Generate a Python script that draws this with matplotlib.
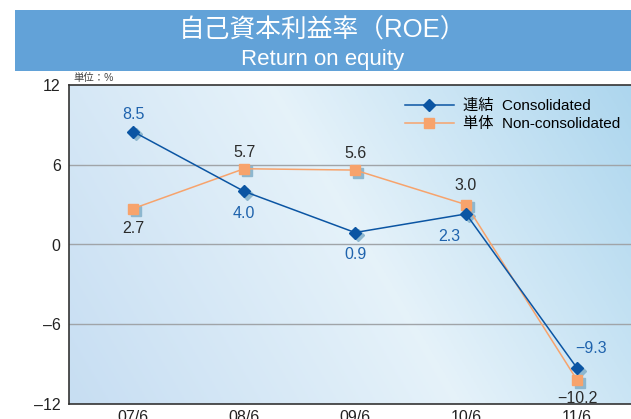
import matplotlib
matplotlib.use("Agg")
import matplotlib.pyplot as plt
import matplotlib.transforms as mtransforms
import numpy as np
from matplotlib.patches import Rectangle

plt.rcParams["font.family"] = ["Liberation Sans", "Noto Sans CJK JP"]
plt.rcParams["axes.unicode_minus"] = True

periods = ["07/6", "08/6", "09/6", "10/6", "11/6"]
consolidated = [8.5, 4.0, 0.9, 2.3, -9.3]
non_consolidated = [2.7, 5.7, 5.6, 3.0, -10.2]
y_ticks = [12, 6, 0, -6, -12]
y_tick_labels = ["12", "6", "0", "\u20136", "\u201312"]
cons_labels = ["8.5", "4.0", "0.9", "2.3", "\u22129.3"]
non_labels = ["2.7", "5.7", "5.6", "3.0", "\u221210.2"]

BLUE = "#0b55a3"
BLUE_TEXT = "#1f63ad"
ORANGE = "#f7a36c"
SHADOW = "#8db7cf"

fig = plt.figure(figsize=(6.31, 4.19), dpi=100)

# title banner
fig.patches.append(Rectangle((15 / 631, 1 - 71 / 419), 616 / 631, 61 / 419,
                             transform=fig.transFigure, facecolor="#62a2d8",
                             edgecolor="none", zorder=0))
fig.text(0.5 + 7 / 631, 1 - 30 / 419, "自己資本利益率（ROE）", color="white",
         fontsize=18.5, ha="center", va="center")
fig.text(0.5 + 7 / 631, 1 - 59 / 419, "Return on equity", color="white",
         fontsize=16, ha="center", va="center")

ax = fig.add_axes([69 / 631, 1 - 404 / 419, 1 - 69 / 631, 319 / 419])

# gradient background
h, w = 100, 200
yy, xx = np.mgrid[0:1:h * 1j, 0:1:w * 1j]
t = (xx * 0.75 + (1 - yy) * 0.25)
c_left = np.array([0.78, 0.87, 0.95])
c_mid = np.array([0.90, 0.95, 0.98])
c_right = np.array([0.66, 0.83, 0.93])
wgt = np.clip(1 - np.abs(t - 0.52) / 0.52, 0, 1)[..., None]
base = np.where((t < 0.52)[..., None], c_left, c_right)
img = base * (1 - wgt) + c_mid * wgt
ax.imshow(img, extent=[0, 1, 0, 1], transform=ax.transAxes, aspect="auto",
          zorder=0, origin="upper")

x = np.arange(len(periods))
ax.set_xlim(-0.577, 4.486)
ax.set_ylim(-12, 12)

for yv in [6, 0, -6]:
    ax.axhline(yv, color="#a0a4a8", lw=1.0, zorder=1)

shadow = mtransforms.offset_copy(ax.transData, fig=fig, x=2.5, y=-2.5, units="dots")
ax.plot(x, consolidated, ls="none", marker="D", ms=6, color=SHADOW,
        transform=shadow, zorder=2)
ax.plot(x, non_consolidated, ls="none", marker="s", ms=7, color=SHADOW,
        transform=shadow, zorder=2)

ax.plot(x, non_consolidated, color=ORANGE, lw=1.1, marker="s", ms=7,
        label="単体  Non-consolidated", zorder=3)
ax.plot(x, consolidated, color=BLUE, lw=1.1, marker="D", ms=6,
        label="連結  Consolidated", zorder=4)

# value labels (offsets in points)
cons_off = [(0, 12), (0, -16), (0, -16), (-12, -16), (10, 14)]
non_off = [(0, -14), (0, 12), (0, 12), (0, 14), (0, -13)]
for i in range(len(x)):
    ax.annotate(cons_labels[i], (x[i], consolidated[i]), xytext=cons_off[i],
                textcoords="offset points", ha="center", va="center",
                color=BLUE_TEXT, fontsize=11.5, zorder=5)
    ax.annotate(non_labels[i], (x[i], non_consolidated[i]), xytext=non_off[i],
                textcoords="offset points", ha="center", va="center",
                color="#2b2b2b", fontsize=11.5, zorder=5)

ax.set_yticks(y_ticks)
ax.set_yticklabels(y_tick_labels, fontsize=11.5, color="#222222")
ax.set_xticks(x)
ax.set_xticklabels(periods, fontsize=11.5, color="#222222")
ax.tick_params(length=0, pad=6)
ax.tick_params(axis="x", pad=4)

for side in ["left", "top", "bottom"]:
    ax.spines[side].set_color("#333333")
    ax.spines[side].set_linewidth(1.2)
ax.spines["right"].set_visible(False)

handles, labels = ax.get_legend_handles_labels()
leg = ax.legend(handles[::-1], labels[::-1], loc="upper right",
                bbox_to_anchor=(1.0, 0.99), frameon=False, fontsize=11,
                handlelength=3.2, labelspacing=0.25, handletextpad=0.6,
                borderaxespad=0.3)

fig.text(73 / 631, 1 - 78 / 419, "単位：%", fontsize=7.5, color="#444444",
         ha="left", va="center")

fig.savefig("out.png", dpi=100)
